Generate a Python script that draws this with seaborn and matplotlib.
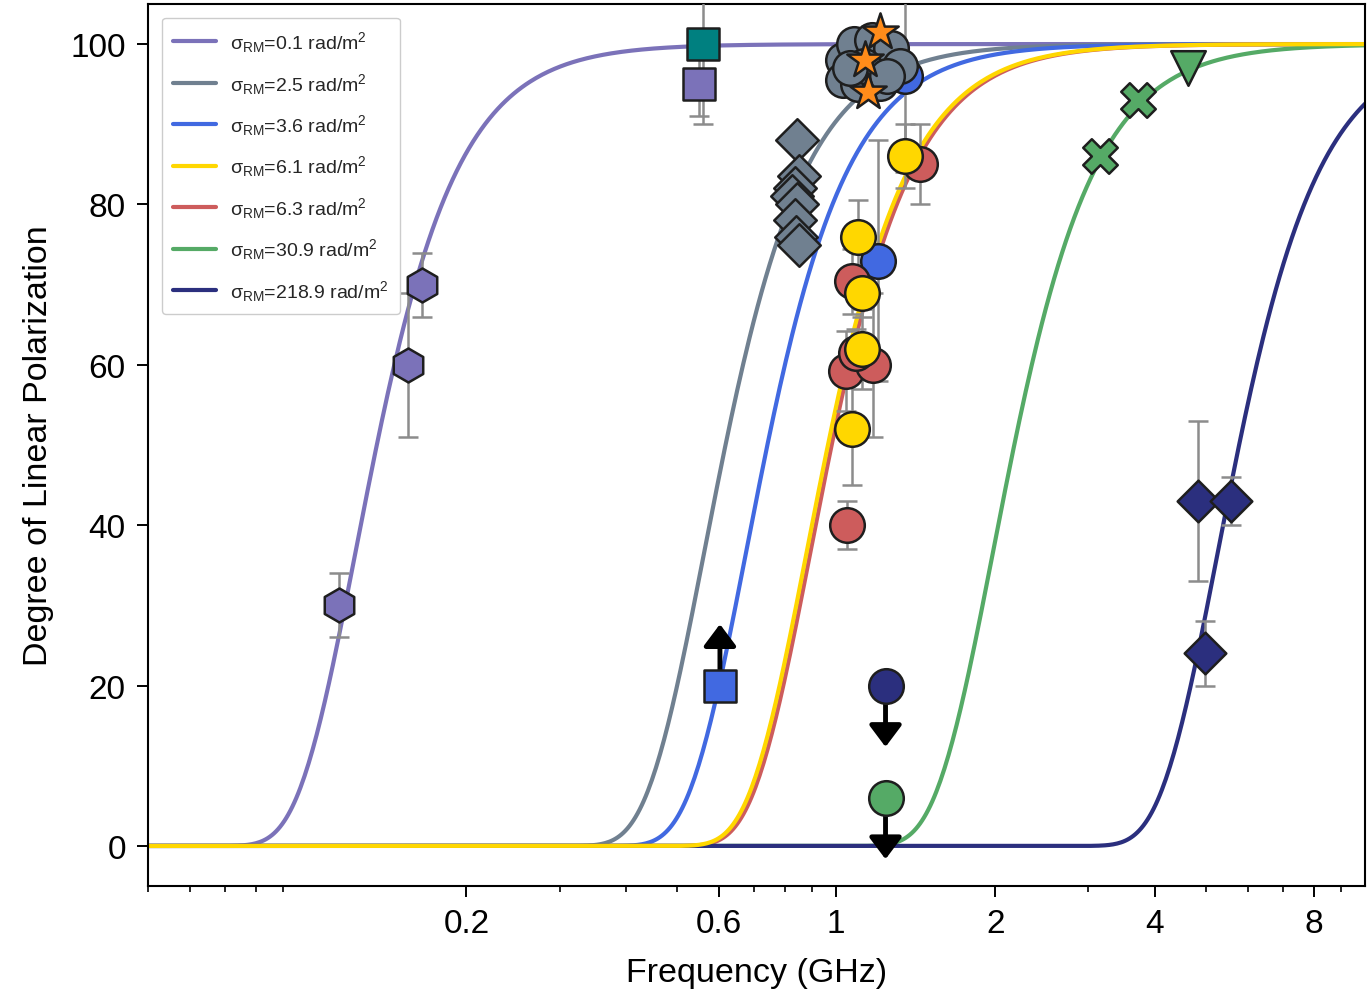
import numpy as np
import pandas as pd
import matplotlib
matplotlib.use("Agg")
import matplotlib.pyplot as plt
import seaborn as sns
from matplotlib.ticker import LogLocator, NullFormatter, FixedLocator, FixedFormatter

# ---------------- data ----------------
sigma_rm = [0.12, 2.5, 3.6, 6.1, 6.3, 30.9, 218.9]          # rad/m^2 (legend shows 1 decimal)
curve_colors = ["#7b72b9", "#708090", "#4169e1", "#ffd700", "#cd5c5c", "#55aa66", "#2b2f7e"]
draw_order = [0, 1, 2, 4, 5, 6, 3]

hex_x = [0.115, 0.155, 0.165]
hex_y = [30, 60, 70]
hex_err = [4, 9, 4]

teal_sq_x = [0.56]
teal_sq_y = [100]
teal_sq_err = [10]

purple_sq_x = [0.55]
purple_sq_y = [95]
purple_sq_err = [4]

blue_sq_lim_x = [0.603]
blue_sq_lim_y = [20]

gray_diam_x = [0.845, 0.85, 0.835, 0.825, 0.845, 0.835, 0.84, 0.85]
gray_diam_y = [88, 83.5, 82, 81, 80, 78, 76, 75]

gray_circ_x = [1.03, 1.08, 1.17, 1.27, 1.03, 1.10, 1.21, 1.32, 1.13, 1.06, 1.25]
gray_circ_y = [98, 100, 100.5, 99.5, 95.5, 95, 95.2, 97.3, 97.3, 97, 96]

blue_circ_x = [1.35, 1.20]
blue_circ_y = [96, 73]
blue_circ_err = [12, 15]

red_x = [1.44, 1.07, 1.045, 1.175, 1.09, 1.05]
red_y = [85, 70.4, 59.2, 60, 61.5, 40]
red_err = [5, 4, 5, 9, 3, 3]

yellow_x = [1.35, 1.10, 1.12, 1.12, 1.07]
yellow_y = [86, 76, 69, 62, 52]
yellow_err = [4, 4.5, 3, 5, 7]

star_x = [1.21, 1.135, 1.15]
star_y = [101.5, 98, 94]

green_x_x = [3.16, 3.72]
green_x_y = [86, 93]
green_tri_x = [4.62]
green_tri_y = [97]

green_circ_lim_x = [1.24]
green_circ_lim_y = [6]
navy_circ_lim_x = [1.24]
navy_circ_lim_y = [20]

navy_diam_x = [4.83, 5.58, 4.98]
navy_diam_y = [43, 43, 24]
navy_diam_err = [10, 3, 4]

xtick_vals = [0.2, 0.6, 1, 2, 4, 8]
xtick_labels = ["0.2", "0.6", "1", "2", "4", "8"]
ytick_vals = [0, 20, 40, 60, 80, 100]

# ---------------- style ----------------
sns.set_theme(style="ticks")
plt.rcParams["font.family"] = ["Liberation Sans", "DejaVu Sans"]
plt.rcParams["mathtext.fontset"] = "custom"
plt.rcParams["mathtext.rm"] = "Liberation Sans"
plt.rcParams["mathtext.it"] = "Liberation Sans:italic"
plt.rcParams["mathtext.default"] = "regular"

fig, ax = plt.subplots(figsize=(13.71, 9.95), dpi=100)
fig.subplots_adjust(left=0.108, right=0.9956, top=0.995, bottom=0.1085)

# ---------------- model curves ----------------
freq = np.logspace(np.log10(0.05), np.log10(10.0), 600)
lam = 0.299792458 / freq


def legend_label(s):
    return f"σ$_{{RM}}$={s:.1f} rad/m$^{{2}}$"


for i in draw_order:
    s = sigma_rm[i]
    dolp = 100.0 * np.exp(-2.0 * s**2 * lam**4)
    df = pd.DataFrame({"freq": freq, "dolp": dolp})
    sns.lineplot(data=df, x="freq", y="dolp", color=curve_colors[i], lw=3,
                 ax=ax, label=legend_label(s), zorder=2)

# ---------------- error bars ----------------
err_kw = dict(fmt="none", ecolor="#8c8c8c", elinewidth=1.8, capsize=7, capthick=1.8, zorder=3)
ax.errorbar(hex_x, hex_y, yerr=hex_err, **err_kw)
ax.errorbar(teal_sq_x, teal_sq_y, yerr=teal_sq_err, **err_kw)
ax.errorbar(purple_sq_x, purple_sq_y, yerr=purple_sq_err, **err_kw)
ax.errorbar(blue_circ_x, blue_circ_y, yerr=blue_circ_err, **err_kw)
ax.errorbar(red_x, red_y, yerr=red_err, **err_kw)
ax.errorbar(yellow_x, yellow_y, yerr=yellow_err, **err_kw)
ax.errorbar(navy_diam_x, navy_diam_y, yerr=navy_diam_err, **err_kw)

# ---------------- limit arrows ----------------
arrow_len = 8
arrow_kw = dict(arrowstyle="-|>,head_length=0.6,head_width=0.45", color="black", lw=3.5, mutation_scale=22)
for xs, ys, sign in [(blue_sq_lim_x, blue_sq_lim_y, 1), (navy_circ_lim_x, navy_circ_lim_y, -1),
                     (green_circ_lim_x, green_circ_lim_y, -1)]:
    for x, y in zip(xs, ys):
        ax.annotate("", xy=(x, y + sign * arrow_len), xytext=(x, y),
                    arrowprops=arrow_kw, zorder=4, annotation_clip=False)

# ---------------- markers ----------------
edge = "#1e1e1e"
lw_edge = 1.8


def pts(x, y, marker, s, color):
    sns.scatterplot(x=x, y=y, marker=marker, s=s, color=color, edgecolor=edge,
                    linewidth=lw_edge, ax=ax, zorder=5, legend=False)


pts(hex_x, hex_y, "h", 600, "#7b72b9")
pts(purple_sq_x, purple_sq_y, "s", 560, "#7b72b9")
pts(teal_sq_x, teal_sq_y, "s", 560, "#008080")
pts(blue_sq_lim_x, blue_sq_lim_y, "s", 560, "#4169e1")
pts(gray_diam_x, gray_diam_y, "D", 470, "#708090")
pts(blue_circ_x, blue_circ_y, "o", 620, "#4169e1")
pts(gray_circ_x, gray_circ_y, "o", 620, "#708090")
pts(red_x, red_y, "o", 620, "#cd5c5c")
pts(yellow_x, yellow_y, "o", 620, "#ffd700")
pts(star_x, star_y, "*", 760, "#ff8c1a")
pts(green_x_x, green_x_y, "X", 620, "#55aa66")
pts(green_tri_x, green_tri_y, "v", 620, "#55aa66")
pts(green_circ_lim_x, green_circ_lim_y, "o", 620, "#55aa66")
pts(navy_circ_lim_x, navy_circ_lim_y, "o", 620, "#2b2f7e")
pts(navy_diam_x, navy_diam_y, "D", 450, "#2b2f7e")

# ---------------- axes ----------------
ax.set_xscale("log")
ax.set_xlim(0.05, 10.0)
ax.set_ylim(-5, 105)
ax.xaxis.set_major_locator(FixedLocator(xtick_vals))
ax.xaxis.set_major_formatter(FixedFormatter(xtick_labels))
ax.xaxis.set_minor_locator(LogLocator(base=10, subs=np.arange(2, 10), numticks=100))
ax.xaxis.set_minor_formatter(NullFormatter())
ax.set_yticks(ytick_vals)

for sp in ax.spines.values():
    sp.set_color("black")
    sp.set_linewidth(1.5)
    sp.set_visible(True)
ax.tick_params(axis="both", which="major", direction="out", length=8, width=1.4,
               labelsize=24, colors="black", pad=8)
ax.tick_params(axis="both", which="minor", direction="out", length=4.5, width=1.2, colors="black")

ax.set_xlabel("Frequency (GHz)", fontsize=24.5, color="black", labelpad=13)
ax.set_ylabel("Degree of Linear Polarization", fontsize=24.5, color="black", labelpad=12)

handles, labels = ax.get_legend_handles_labels()
h_by_label = dict(zip(labels, handles))
sigma_sorted = sorted(range(len(sigma_rm)), key=lambda k: sigma_rm[k])
lab_sorted = [legend_label(sigma_rm[k]) for k in sigma_sorted]
leg = ax.legend([h_by_label[l] for l in lab_sorted], lab_sorted, loc="upper left",
                fontsize=14, frameon=True, fancybox=True, framealpha=1,
                edgecolor="#cccccc", handlelength=2.2, handletextpad=0.7,
                labelspacing=0.85, borderaxespad=0.7, borderpad=0.6)
leg.set_zorder(10)

fig.savefig("out.png", dpi=100)
